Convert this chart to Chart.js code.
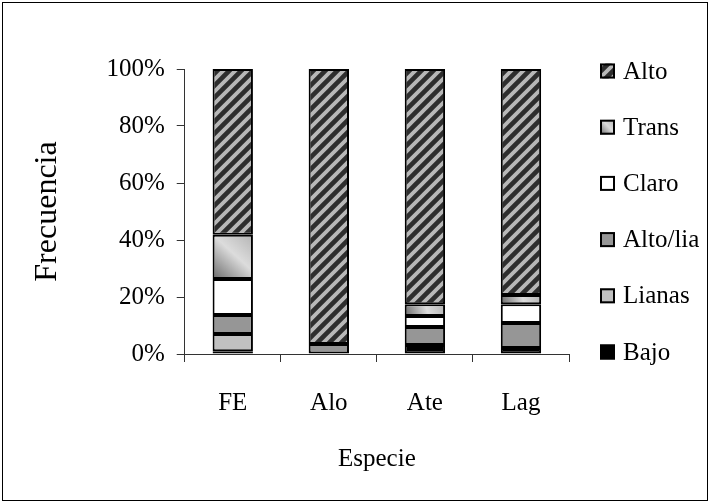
<!DOCTYPE html>
<html>
<head>
<meta charset="utf-8">
<script src="https://cdn.jsdelivr.net/npm/chart.js@4.4.0/dist/chart.umd.min.js"></script>
<style>
  body { margin: 0; background: #fff; }
  #wrap { position: absolute; left: 2px; top: 2px; width: 704px; height: 497px; border: 1px solid #000; }
</style>
</head>
<body>
<div id="wrap"><canvas id="chart"></canvas></div>
<script>
const species = ['FE', 'Alo', 'Ate', 'Lag'];
const yTicks = [0, 20, 40, 60, 80, 100];

// percent per class, stacked from bottom
const bajo    = [1.0, 0,    3.2, 2.1];
const lianas  = [6.0, 0,    0,   0];
const altoLia = [6.7, 3.5,  6.3, 8.8];
const claro   = [12.6, 0,   3.8, 6.6];
const trans   = [15.5, 0,   4.2, 3.2];
const alto    = [58.2, 96.5, 82.5, 79.3];

const BAR_PCT = 0.42;
const serif = 'Liberation Serif';

function stripes() {
  const c = document.createElement('canvas');
  c.width = 12; c.height = 12;
  const g = c.getContext('2d');
  g.fillStyle = '#2e2e2e';
  g.fillRect(0, 0, 12, 12);
  g.strokeStyle = '#b8b8b8';
  g.lineWidth = 3.8;
  g.beginPath();
  g.moveTo(-6, 6); g.lineTo(6, -6);
  g.moveTo(0, 12); g.lineTo(12, 0);
  g.moveTo(6, 18); g.lineTo(18, 6);
  g.stroke();
  return g.createPattern(c, 'repeat');
}

function shadeGrad(ctx, x0, yb, x1, yt) {
  const grad = ctx.createLinearGradient(x0, yb, x1, yt);
  grad.addColorStop(0, '#6a6a6a');
  grad.addColorStop(0.55, '#dcdcdc');
  grad.addColorStop(1, '#b4b4b4');
  return grad;
}

// shaded fill for "Trans", built from the scales of the chart
function shade(context) {
  const chart = context.chart;
  const xs = chart.scales.x, ys = chart.scales.y;
  if (!xs || !ys || context.dataIndex === undefined) return '#b0b0b0';
  const i = context.dataIndex;
  const below = bajo[i] + lianas[i] + altoLia[i] + claro[i];
  const cx = xs.getPixelForValue(i);
  const half = (xs.getPixelForValue(1) - xs.getPixelForValue(0)) * BAR_PCT / 2;
  const yb = ys.getPixelForValue(below);
  const yt = ys.getPixelForValue(below + trans[i]);
  if (!isFinite(cx) || !isFinite(yb) || !isFinite(half)) return '#b0b0b0';
  return shadeGrad(chart.ctx, cx - half, yb, cx + half, yt);
}

function ds(label, data, bg) {
  return {
    label: label,
    data: data,
    backgroundColor: bg,
    borderColor: '#000',
    borderWidth: 2,
    borderSkipped: false
  };
}

// legend to the right of the plot, items spread over the plot height
const sideLegend = {
  id: 'sideLegend',
  afterDraw(chart) {
    const { ctx, chartArea } = chart;
    const sets = chart.data.datasets.slice().reverse();
    const step = (chartArea.bottom - chartArea.top - 4) / (sets.length - 1);
    const bx = chartArea.right + 31;
    ctx.save();
    ctx.font = '25px "' + serif + '"';
    ctx.textBaseline = 'middle';
    sets.forEach((d, k) => {
      const cy = chartArea.top + 2 + k * step;
      const bg = typeof d.backgroundColor === 'function'
        ? shadeGrad(ctx, bx, cy + 7, bx + 15, cy - 7)
        : d.backgroundColor;
      ctx.fillStyle = bg;
      ctx.fillRect(bx, cy - 7.5, 15, 15);
      ctx.strokeStyle = '#000';
      ctx.lineWidth = 2;
      ctx.strokeRect(bx + 1, cy - 6.5, 13, 13);
      ctx.fillStyle = '#000';
      ctx.fillText(d.label, bx + 23, cy + 1);
    });
    ctx.restore();
  }
};

new Chart(document.getElementById('chart'), {
  type: 'bar',
  data: {
    labels: species,
    datasets: [
      ds('Bajo', bajo, '#000'),
      ds('Lianas', lianas, '#c0c0c0'),
      ds('Alto/lia', altoLia, '#969696'),
      ds('Claro', claro, '#fff'),
      ds('Trans', trans, shade),
      ds('Alto', alto, stripes())
    ]
  },
  plugins: [sideLegend],
  options: {
    responsive: true,
    maintainAspectRatio: false,
    animation: false,
    datasets: { bar: { categoryPercentage: 1, barPercentage: BAR_PCT } },
    layout: { padding: { left: 20, top: 66, right: 138, bottom: 26 } },
    scales: {
      x: {
        stacked: true,
        grid: { offset: true, drawOnChartArea: false, tickLength: 8, color: '#333' },
        border: { color: '#333' },
        ticks: { color: '#000', padding: 26, font: { family: serif, size: 25 } },
        title: { display: true, text: 'Especie', color: '#000', padding: { top: 0, bottom: 0 }, font: { family: serif, size: 25 } }
      },
      y: {
        stacked: true,
        min: 0,
        max: 100,
        afterBuildTicks: axis => { axis.ticks = yTicks.map(v => ({ value: v })); },
        grid: { drawOnChartArea: false, tickLength: 8, color: '#333' },
        border: { color: '#333' },
        ticks: { color: '#000', padding: 12, font: { family: serif, size: 25 }, callback: v => v + '%' },
        title: { display: true, text: 'Frecuencia', color: '#000', padding: { top: 5, bottom: 28 }, font: { family: serif, size: 32 } }
      }
    },
    plugins: {
      tooltip: { enabled: false },
      legend: { display: false }
    }
  }
});
</script>
</body>
</html>
